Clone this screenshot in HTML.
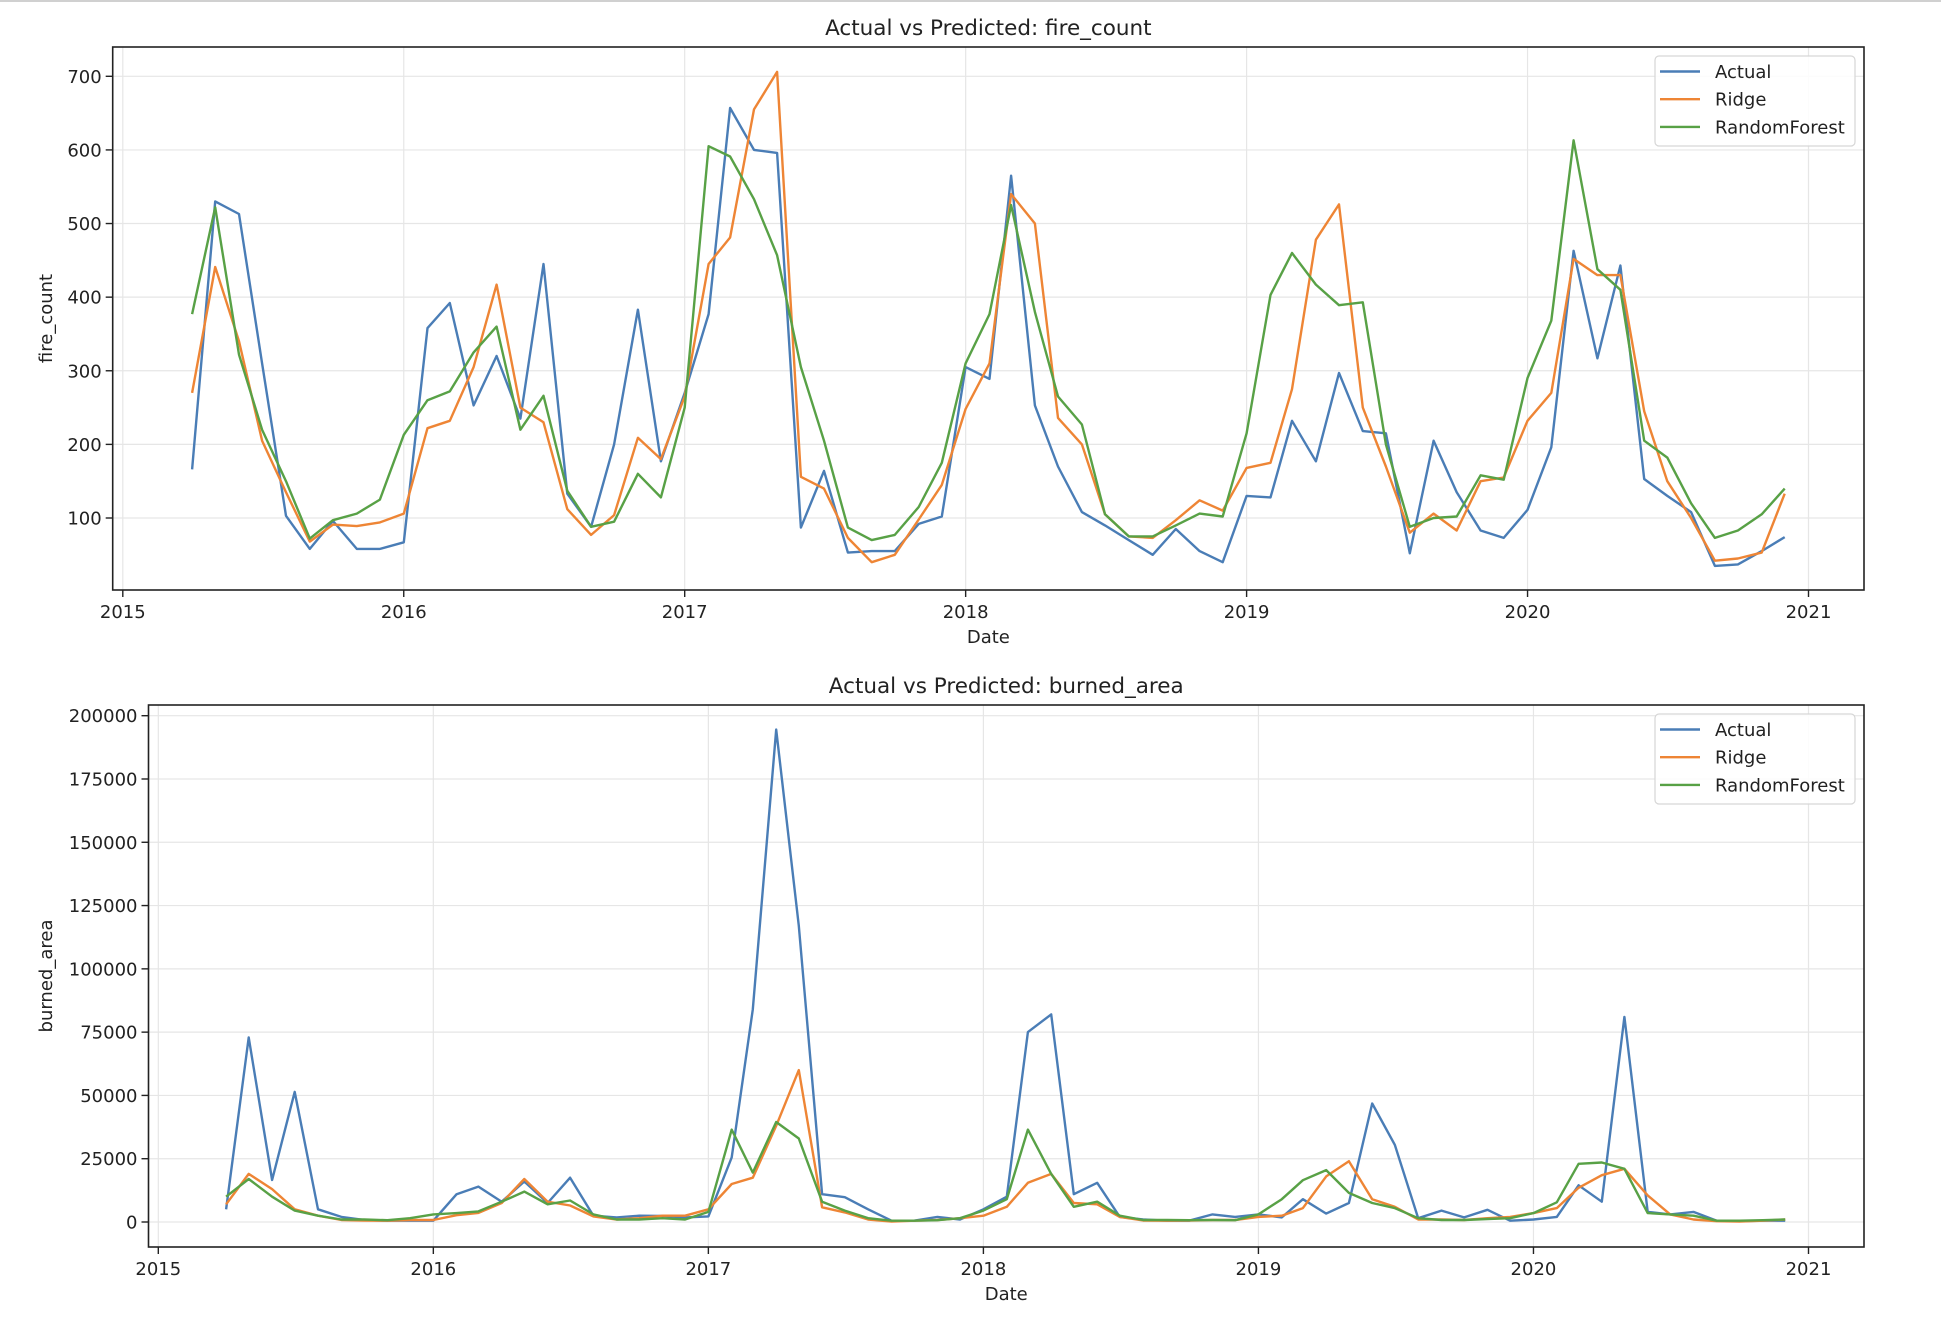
<!DOCTYPE html>
<html><head><meta charset="utf-8"><style>
html,body{margin:0;padding:0;background:#fff;}
body{width:1941px;height:1333px;overflow:hidden;border-top:2px solid #d0d0d0;box-sizing:border-box;}
svg text{font-family:"DejaVu Sans","Liberation Sans",sans-serif;fill:#222;}
</style></head><body>
<svg id="chart" width="1941" height="1333" style="position:absolute;left:0;top:0"></svg>
<script>
const seriesNames = ["Actual","Ridge","RandomForest"];
const seriesColors = ["#4a7db6","#ee8535","#58a146"];
const fireActual = [166,530,513,310,103,58,96,58,58, 67,358,392,253,320,235,445,133,88,200,383,177, 270,377,657,600,596,87,164,53,55,55,92,102, 305,289,565,253,170,108,90,70,50,85,55,40, 130,128,232,177,297,218,215,52,205,135,83,73, 111,196,463,317,443,153,130,108,35,37,55,74];
const fireRidge = [270,441,340,205,135,68,91,89,94, 106,222,232,305,417,250,230,112,77,104,209,180, 265,445,481,655,706,156,140,73,40,50,98,145, 248,310,540,500,236,200,105,75,73,97,124,110, 168,175,275,478,526,250,170,80,106,83,150,155, 232,270,452,430,430,245,150,100,42,45,53,133];
const fireRF = [377,522,322,220,150,72,97,106,125, 213,260,272,325,360,220,266,137,88,95,160,128, 250,605,591,533,457,305,205,87,70,77,115,175, 310,377,525,380,265,227,105,75,75,90,106,102, 215,403,460,417,389,393,200,88,100,102,158,152, 290,368,613,438,410,205,182,120,73,83,105,140];
const areaActual = [5000,72900,16600,51400,5000,2000,800,500,500, 500,11000,14000,8000,16000,7500,17500,2500,1800,2500,2400,1800, 2200,25500,84000,194500,117000,11000,9800,5000,500,500,2000,1000, 5000,10000,75000,82000,11000,15500,2000,1000,500,500,3000,2000, 3000,1800,9000,3300,7500,46800,30500,1500,4500,1800,4800,500, 1000,2000,14500,8000,81000,4000,3000,4000,500,300,500,500];
const areaRidge = [7000,19000,13000,5000,2500,800,600,500,800, 800,2700,3600,7500,17000,8000,6500,2200,1000,1500,2500,2500, 5000,15000,17500,38000,60000,5800,3800,1000,200,500,800,1500, 2500,6000,15500,19000,7500,7000,2000,600,500,600,800,800, 2000,2500,5500,18000,24000,9000,6000,1000,1000,800,1500,2000, 3500,5500,13500,18500,21000,10500,3000,1000,300,200,500,1000];
const areaRF = [10000,17000,10000,4500,2500,1000,1000,700,1500, 3000,3500,4200,8000,12000,7000,8500,3000,1000,1000,1500,1000, 4000,36500,19500,39500,33000,8000,4500,1500,500,500,700,1500, 4500,9000,36500,19000,6000,8000,2500,800,800,700,800,700, 3000,9000,16500,20500,11500,7500,5500,1500,800,800,1200,1500, 3500,7800,23000,23500,21000,3500,3000,2500,500,500,700,1000];
const yearTicks = [2015,2016,2017,2018,2019,2020,2021];
const fireTicks = [100,200,300,400,500,600,700];
const areaTicks = [0,25000,50000,75000,100000,125000,150000,175000,200000];

const NS="http://www.w3.org/2000/svg";
const svg=document.getElementById('chart');
function mk(tag,attrs,parent){const e=document.createElementNS(NS,tag);for(const k in attrs)e.setAttribute(k,attrs[k]);(parent||svg).appendChild(e);return e;}
function monthDate(i){
  const m=3+i; const y=2015+Math.floor(m/12); const mo=m%12;
  const d=new Date(Date.UTC(y,mo,1)); const s=Date.UTC(y,0,1); const e=Date.UTC(y+1,0,1);
  return y+(d-s)/(e-s);
}
function drawPanel(cfg){
  const g=mk('g',{});
  
  
  const xs=v=>cfg.x0+(v-2015)*(cfg.x1-cfg.x0)/6;
  const ys=v=>cfg.yA+(v-cfg.vA)*(cfg.yB-cfg.yA)/(cfg.vB-cfg.vA);
  yearTicks.forEach(t=>{const l=mk('line',{x1:xs(t),x2:xs(t),y1:cfg.top,y2:cfg.bottom,stroke:'#e6e6e6','stroke-width':1.2},g);
    });
  cfg.yticks.forEach(t=>{const l=mk('line',{x1:cfg.left,x2:cfg.right,y1:ys(t),y2:ys(t),stroke:'#e6e6e6','stroke-width':1.2},g);
    });
  cfg.series.forEach((arr,si)=>{
    const pts=arr.map((v,i)=>xs(monthDate(i)).toFixed(1)+','+ys(v).toFixed(1)).join(' ');
    const p=mk('polyline',{points:pts,fill:'none',stroke:seriesColors[si],'stroke-width':2.4,'stroke-linejoin':'round'},g);
    
    
  });
  const fr=mk('rect',{x:cfg.left,y:cfg.top,width:cfg.right-cfg.left,height:cfg.bottom-cfg.top,fill:'none',stroke:'#222','stroke-width':1.6},g);
  
  yearTicks.forEach(t=>{mk('line',{x1:xs(t),x2:xs(t),y1:cfg.bottom,y2:cfg.bottom+7,stroke:'#222','stroke-width':1.4},g);
    const tx=mk('text',{x:xs(t),y:cfg.bottom+28,'text-anchor':'middle','font-size':18},g);tx.textContent=t;
    });
  cfg.yticks.forEach(t=>{mk('line',{x1:cfg.left-7,x2:cfg.left,y1:ys(t),y2:ys(t),stroke:'#222','stroke-width':1.4},g);
    const tx=mk('text',{x:cfg.left-11,y:ys(t)+6.5,'text-anchor':'end','font-size':18},g);tx.textContent=t;
    });
  const ti=mk('text',{x:(cfg.left+cfg.right)/2,y:cfg.top-12,'text-anchor':'middle','font-size':21.5},g);ti.textContent=cfg.title;
  
  const xl=mk('text',{x:(cfg.left+cfg.right)/2,y:cfg.bottom+53,'text-anchor':'middle','font-size':18},g);xl.textContent='Date';
  
  const yl=mk('text',{x:0,y:0,'text-anchor':'middle','font-size':18,transform:`translate(${cfg.ylabX},${(cfg.top+cfg.bottom)/2}) rotate(-90)`},g);yl.textContent=cfg.ylabel;
  
  const lg=mk('g',{},g);
  
  mk('rect',{x:1655,y:cfg.legY,width:200,height:90,rx:4,fill:'#fff','fill-opacity':0.85,stroke:'#d6d6d6','stroke-width':1.2},lg);
  seriesNames.forEach((n,i)=>{
    const yy=cfg.legY+15.5+i*27.7;
    mk('line',{x1:1660,x2:1700,y1:yy,y2:yy,stroke:seriesColors[i],'stroke-width':2.4},lg);
    const t=mk('text',{x:1715,y:yy+6.5,'font-size':18},lg);t.textContent=n;
    
  });
}
drawPanel({name:'fire-count-panel',title:'Actual vs Predicted: fire_count',ylabel:'fire_count',
  left:112.7,right:1864,top:47,bottom:590,x0:122.8,x1:1808.5,yA:76.3,vA:700,yB:518,vB:100,
  yticks:fireTicks,series:[fireActual,fireRidge,fireRF],ylabX:52,legY:56});
drawPanel({name:'burned-area-panel',title:'Actual vs Predicted: burned_area',ylabel:'burned_area',
  left:148.5,right:1864,top:705,bottom:1247,x0:158.3,x1:1808.5,yA:1222,vA:0,yB:715.7,vB:200000,
  yticks:areaTicks,series:[areaActual,areaRidge,areaRF],ylabX:52,legY:714});
</script>
</body></html>
